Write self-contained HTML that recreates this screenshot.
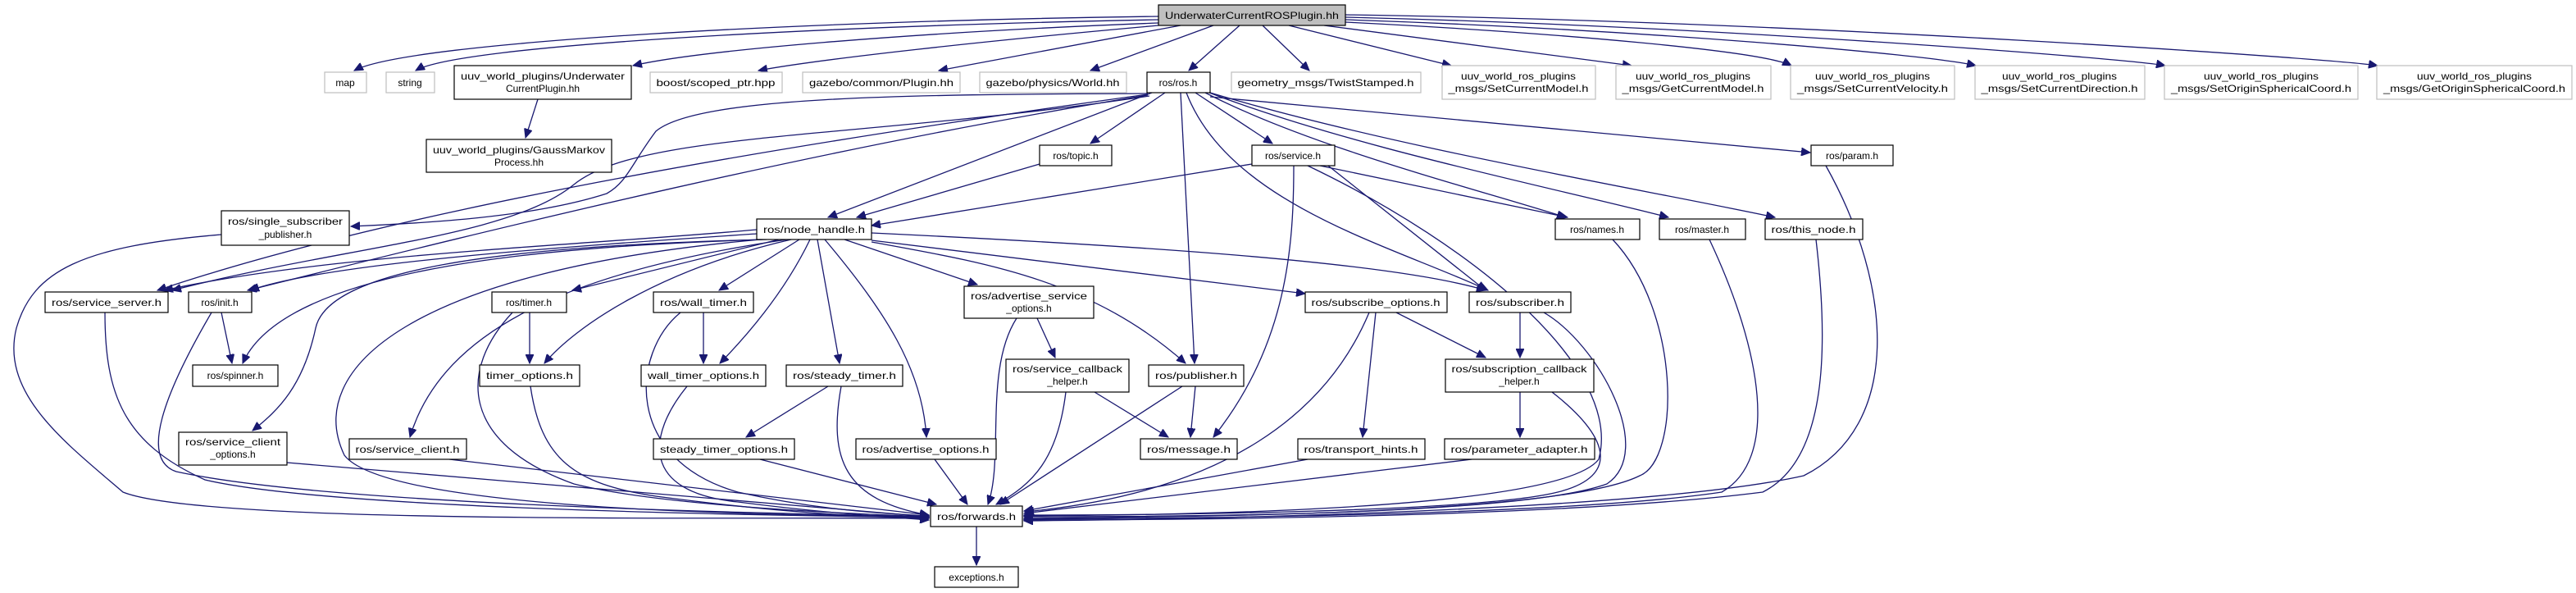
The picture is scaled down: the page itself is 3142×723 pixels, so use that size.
<!DOCTYPE html>
<html><head><meta charset="utf-8"><style>
html,body{margin:0;padding:0;background:#fff;}
svg{display:block;}
text{font-family:"Liberation Sans","DejaVu Sans",sans-serif;font-size:12px;fill:#000;text-anchor:middle;}
.e{fill:none;stroke:#191970;stroke-width:1.3;marker-end:url(#a);}
.b{fill:#fff;stroke:#000;stroke-width:1.2;}
.g{fill:#fff;stroke:#bfbfbf;stroke-width:1.2;}
</style></head><body>
<svg width="3142" height="723" viewBox="0 0 3142 723" xmlns="http://www.w3.org/2000/svg">
<defs><marker id="a" markerUnits="userSpaceOnUse" markerWidth="12" markerHeight="10" refX="11" refY="5" orient="auto"><path d="M0,0 L11,5 L0,10 z" fill="#191970" stroke="#191970"/></marker></defs>
<g>
<path class="e" d="M1413,20 C1000,25 500,50 432,86"/>
<path class="e" d="M1413,24 C1000,32 560,55 507,86"/>
<path class="e" d="M1413,28 C1100,40 850,62 772,80"/>
<path class="e" d="M1413,31 C1200,50 1000,72 925,86"/>
<path class="e" d="M1440,31 L1145,86"/>
<path class="e" d="M1480,31 L1330,86"/>
<path class="e" d="M1512,31 L1450,86"/>
<path class="e" d="M1540,31 L1597,86"/>
<path class="e" d="M1572,31 L1770,80"/>
<path class="e" d="M1615,31 L1990,80"/>
<path class="e" d="M1641,27 C1900,40 2150,62 2185,80"/>
<path class="e" d="M1641,24 C2000,36 2350,66 2410,80"/>
<path class="e" d="M1641,21 C2100,32 2600,72 2641,80"/>
<path class="e" d="M1641,18 C2200,26 2850,72 2900,80"/>
<path class="e" d="M656,121 L641,168"/>
<path class="e" d="M1421,113 L1330,175"/>
<path class="e" d="M1458,113 L1552,175"/>
<path class="e" d="M1476,118 L2208,186"/>
<path class="e" d="M1470,113 C1600,180 1800,230 1910,265"/>
<path class="e" d="M1475,113 C1650,180 1900,230 2035,265"/>
<path class="e" d="M1476,113 C1700,180 2000,230 2165,265"/>
<path class="e" d="M1440,113 L1457,443"/>
<path class="e" d="M1447,113 C1500,250 1700,300 1815,354"/>
<path class="e" d="M1405,113 L1010,265"/>
<path class="e" d="M1400,114 C1100,115 850,118 800,160 C770,200 765,222 740,236 C650,265 520,272 428,276"/>
<path class="e" d="M1400,115 C1000,170 500,250 192,354"/>
<path class="e" d="M1400,116 C1000,180 600,280 302,354"/>
<path class="e" d="M1402,117 C1050,170 780,160 700,225 C620,290 420,300 210,354"/>
<path class="e" d="M1268,200 L1045,265"/>
<path class="e" d="M1527,200 L1063,275"/>
<path class="e" d="M1610,202 L1912,265"/>
<path class="e" d="M1578,202 C1578,300 1570,420 1480,533"/>
<path class="e" d="M1620,202 L1812,354"/>
<path class="e" d="M1595,202 C1800,300 1980,450 1950,560 C1900,625 1400,628 1249,629"/>
<path class="e" d="M923,280 C700,300 400,310 200,354"/>
<path class="e" d="M923,285 C700,300 400,320 305,354"/>
<path class="e" d="M930,292 C700,300 350,320 296,443"/>
<path class="e" d="M935,292 C600,300 400,330 385,400 C370,470 340,500 308,525"/>
<path class="e" d="M928,292 C500,330 370,450 420,555 C470,620 900,628 1133,630"/>
<path class="e" d="M960,292 C700,330 540,400 500,533"/>
<path class="e" d="M950,292 L698,354"/>
<path class="e" d="M965,292 C800,330 700,400 664,443"/>
<path class="e" d="M975,292 L877,354"/>
<path class="e" d="M988,292 C960,350 920,400 878,443"/>
<path class="e" d="M997,292 L1024,443"/>
<path class="e" d="M1006,292 C1080,380 1125,450 1130,533"/>
<path class="e" d="M1030,292 L1192,347"/>
<path class="e" d="M1063,295 C1200,320 1330,340 1446,443"/>
<path class="e" d="M1063,293 L1592,358"/>
<path class="e" d="M1063,284 C1400,300 1700,320 1812,354"/>
<path class="e" d="M270,286 C100,300 40,330 20,400 C0,480 80,540 150,600 C250,640 900,630 1133,632"/>
<path class="e" d="M128,381 C128,480 150,540 250,585 C400,620 900,628 1133,631"/>
<path class="e" d="M270,381 L283,443"/>
<path class="e" d="M258,381 C200,480 170,560 215,575 C400,615 900,625 1133,630"/>
<path class="e" d="M350,564 L1133,630"/>
<path class="e" d="M548,560 L1133,628"/>
<path class="e" d="M646,381 L646,443"/>
<path class="e" d="M625,381 C560,450 560,540 700,590 C800,615 1000,625 1133,630"/>
<path class="e" d="M647,471 C660,560 700,590 800,605 C950,625 1050,630 1133,632"/>
<path class="e" d="M858,381 L858,443"/>
<path class="e" d="M830,381 C770,430 760,560 900,600 C980,618 1050,625 1133,629"/>
<path class="e" d="M838,471 C790,530 780,600 900,612 C1000,625 1080,630 1133,634"/>
<path class="e" d="M1010,471 L910,533"/>
<path class="e" d="M1026,471 C1010,560 1030,610 1133,628"/>
<path class="e" d="M927,560 L1142,615"/>
<path class="e" d="M1140,560 L1180,615"/>
<path class="e" d="M1240,388 C1200,450 1225,560 1205,615"/>
<path class="e" d="M1265,388 L1287,436"/>
<path class="e" d="M1300,478 C1290,560 1260,590 1215,615"/>
<path class="e" d="M1335,478 L1425,533"/>
<path class="e" d="M1442,471 L1220,615"/>
<path class="e" d="M1458,471 L1452,533"/>
<path class="e" d="M1670,381 C1620,500 1500,600 1250,624"/>
<path class="e" d="M1678,381 L1662,533"/>
<path class="e" d="M1703,381 L1812,436"/>
<path class="e" d="M1854,381 L1854,436"/>
<path class="e" d="M1883,381 C1950,420 2020,550 1960,590 C1850,630 1400,630 1249,630"/>
<path class="e" d="M1854,478 L1854,533"/>
<path class="e" d="M1893,478 C1960,530 1980,580 1900,600 C1800,625 1400,628 1249,628"/>
<path class="e" d="M1795,560 L1249,626"/>
<path class="e" d="M1595,560 L1249,623"/>
<path class="e" d="M1967,292 C2050,380 2050,560 2000,580 C1900,630 1400,630 1249,632"/>
<path class="e" d="M2085,292 C2150,430 2170,560 2100,600 C1900,630 1400,632 1249,633"/>
<path class="e" d="M2215,292 C2230,420 2230,560 2150,600 C1900,632 1400,634 1249,634"/>
<path class="e" d="M2227,202 C2310,350 2320,520 2200,580 C2000,625 1400,634 1249,635"/>
<path class="e" d="M1191,642 L1191,689"/>
</g>
<g>
<rect x="1413" y="6" width="228" height="25" fill="#bfbfbf" stroke="#000" stroke-width="1.2"/><text x="1527" y="23" textLength="212" lengthAdjust="spacingAndGlyphs">UnderwaterCurrentROSPlugin.hh</text>
<rect class="g" x="396" y="88" width="51" height="25"/><text x="421" y="105">map</text>
<rect class="g" x="471" y="88" width="59" height="25"/><text x="500" y="105">string</text>
<rect class="b" x="554" y="80" width="216" height="41"/><text x="662" y="97" textLength="200" lengthAdjust="spacingAndGlyphs">uuv_world_plugins/Underwater</text><text x="662" y="112">CurrentPlugin.hh</text>
<rect class="b" x="520" y="170" width="226" height="40"/><text x="633" y="187" textLength="210" lengthAdjust="spacingAndGlyphs">uuv_world_plugins/GaussMarkov</text><text x="633" y="202">Process.hh</text>
<rect class="g" x="793" y="88" width="161" height="25"/><text x="873" y="105" textLength="145" lengthAdjust="spacingAndGlyphs">boost/scoped_ptr.hpp</text>
<rect class="g" x="979" y="88" width="192" height="25"/><text x="1075" y="105" textLength="176" lengthAdjust="spacingAndGlyphs">gazebo/common/Plugin.hh</text>
<rect class="g" x="1195" y="88" width="179" height="25"/><text x="1284" y="105" textLength="163" lengthAdjust="spacingAndGlyphs">gazebo/physics/World.hh</text>
<rect class="b" x="1399" y="88" width="77" height="25"/><text x="1437" y="105">ros/ros.h</text>
<rect class="g" x="1502" y="88" width="231" height="25"/><text x="1617" y="105" textLength="215" lengthAdjust="spacingAndGlyphs">geometry_msgs/TwistStamped.h</text>
<rect class="g" x="1759" y="80" width="187" height="41"/><text x="1852" y="97" textLength="140" lengthAdjust="spacingAndGlyphs">uuv_world_ros_plugins</text><text x="1852" y="112" textLength="171" lengthAdjust="spacingAndGlyphs">_msgs/SetCurrentModel.h</text>
<rect class="g" x="1971" y="80" width="189" height="41"/><text x="2065" y="97" textLength="140" lengthAdjust="spacingAndGlyphs">uuv_world_ros_plugins</text><text x="2065" y="112" textLength="173" lengthAdjust="spacingAndGlyphs">_msgs/GetCurrentModel.h</text>
<rect class="g" x="2184" y="80" width="200" height="41"/><text x="2284" y="97" textLength="140" lengthAdjust="spacingAndGlyphs">uuv_world_ros_plugins</text><text x="2284" y="112" textLength="184" lengthAdjust="spacingAndGlyphs">_msgs/SetCurrentVelocity.h</text>
<rect class="g" x="2409" y="80" width="207" height="41"/><text x="2512" y="97" textLength="140" lengthAdjust="spacingAndGlyphs">uuv_world_ros_plugins</text><text x="2512" y="112" textLength="191" lengthAdjust="spacingAndGlyphs">_msgs/SetCurrentDirection.h</text>
<rect class="g" x="2640" y="80" width="236" height="41"/><text x="2758" y="97" textLength="140" lengthAdjust="spacingAndGlyphs">uuv_world_ros_plugins</text><text x="2758" y="112" textLength="220" lengthAdjust="spacingAndGlyphs">_msgs/SetOriginSphericalCoord.h</text>
<rect class="g" x="2899" y="80" width="238" height="41"/><text x="3018" y="97" textLength="140" lengthAdjust="spacingAndGlyphs">uuv_world_ros_plugins</text><text x="3018" y="112" textLength="222" lengthAdjust="spacingAndGlyphs">_msgs/GetOriginSphericalCoord.h</text>
<rect class="b" x="1268" y="177" width="88" height="25"/><text x="1312" y="194">ros/topic.h</text>
<rect class="b" x="1527" y="177" width="101" height="25"/><text x="1577" y="194">ros/service.h</text>
<rect class="b" x="2209" y="177" width="100" height="25"/><text x="2259" y="194">ros/param.h</text>
<rect class="b" x="270" y="257" width="156" height="42"/><text x="348" y="274" textLength="140" lengthAdjust="spacingAndGlyphs">ros/single_subscriber</text><text x="348" y="290">_publisher.h</text>
<rect class="b" x="923" y="267" width="140" height="25"/><text x="993" y="284" textLength="124" lengthAdjust="spacingAndGlyphs">ros/node_handle.h</text>
<rect class="b" x="1897" y="267" width="103" height="25"/><text x="1948" y="284">ros/names.h</text>
<rect class="b" x="2024" y="267" width="105" height="25"/><text x="2076" y="284">ros/master.h</text>
<rect class="b" x="2153" y="267" width="119" height="25"/><text x="2212" y="284" textLength="103" lengthAdjust="spacingAndGlyphs">ros/this_node.h</text>
<rect class="b" x="55" y="356" width="150" height="25"/><text x="130" y="373" textLength="134" lengthAdjust="spacingAndGlyphs">ros/service_server.h</text>
<rect class="b" x="230" y="356" width="77" height="25"/><text x="268" y="373">ros/init.h</text>
<rect class="b" x="600" y="356" width="91" height="25"/><text x="645" y="373">ros/timer.h</text>
<rect class="b" x="797" y="356" width="122" height="25"/><text x="858" y="373" textLength="106" lengthAdjust="spacingAndGlyphs">ros/wall_timer.h</text>
<rect class="b" x="1176" y="349" width="158" height="39"/><text x="1255" y="365" textLength="142" lengthAdjust="spacingAndGlyphs">ros/advertise_service</text><text x="1255" y="380">_options.h</text>
<rect class="b" x="1592" y="356" width="173" height="25"/><text x="1678" y="373" textLength="157" lengthAdjust="spacingAndGlyphs">ros/subscribe_options.h</text>
<rect class="b" x="1792" y="356" width="124" height="25"/><text x="1854" y="373" textLength="108" lengthAdjust="spacingAndGlyphs">ros/subscriber.h</text>
<rect class="b" x="235" y="445" width="104" height="26"/><text x="287" y="462">ros/spinner.h</text>
<rect class="b" x="585" y="445" width="122" height="26"/><text x="646" y="462" textLength="106" lengthAdjust="spacingAndGlyphs">timer_options.h</text>
<rect class="b" x="782" y="445" width="152" height="26"/><text x="858" y="462" textLength="136" lengthAdjust="spacingAndGlyphs">wall_timer_options.h</text>
<rect class="b" x="959" y="445" width="142" height="26"/><text x="1030" y="462" textLength="126" lengthAdjust="spacingAndGlyphs">ros/steady_timer.h</text>
<rect class="b" x="1227" y="438" width="150" height="40"/><text x="1302" y="454" textLength="134" lengthAdjust="spacingAndGlyphs">ros/service_callback</text><text x="1302" y="469">_helper.h</text>
<rect class="b" x="1401" y="445" width="116" height="26"/><text x="1459" y="462" textLength="100" lengthAdjust="spacingAndGlyphs">ros/publisher.h</text>
<rect class="b" x="1763" y="438" width="181" height="40"/><text x="1853" y="454" textLength="165" lengthAdjust="spacingAndGlyphs">ros/subscription_callback</text><text x="1853" y="469">_helper.h</text>
<rect class="b" x="218" y="527" width="132" height="40"/><text x="284" y="543" textLength="116" lengthAdjust="spacingAndGlyphs">ros/service_client</text><text x="284" y="558">_options.h</text>
<rect class="b" x="426" y="535" width="143" height="25"/><text x="497" y="552" textLength="127" lengthAdjust="spacingAndGlyphs">ros/service_client.h</text>
<rect class="b" x="797" y="535" width="172" height="25"/><text x="883" y="552" textLength="156" lengthAdjust="spacingAndGlyphs">steady_timer_options.h</text>
<rect class="b" x="1044" y="535" width="171" height="25"/><text x="1129" y="552" textLength="155" lengthAdjust="spacingAndGlyphs">ros/advertise_options.h</text>
<rect class="b" x="1391" y="535" width="118" height="25"/><text x="1450" y="552" textLength="102" lengthAdjust="spacingAndGlyphs">ros/message.h</text>
<rect class="b" x="1583" y="535" width="155" height="25"/><text x="1660" y="552" textLength="139" lengthAdjust="spacingAndGlyphs">ros/transport_hints.h</text>
<rect class="b" x="1762" y="535" width="183" height="25"/><text x="1853" y="552" textLength="167" lengthAdjust="spacingAndGlyphs">ros/parameter_adapter.h</text>
<rect class="b" x="1135" y="617" width="112" height="25"/><text x="1191" y="634" textLength="96" lengthAdjust="spacingAndGlyphs">ros/forwards.h</text>
<rect class="b" x="1140" y="691" width="102" height="25"/><text x="1191" y="708">exceptions.h</text>
</g>
</svg>
</body></html>
